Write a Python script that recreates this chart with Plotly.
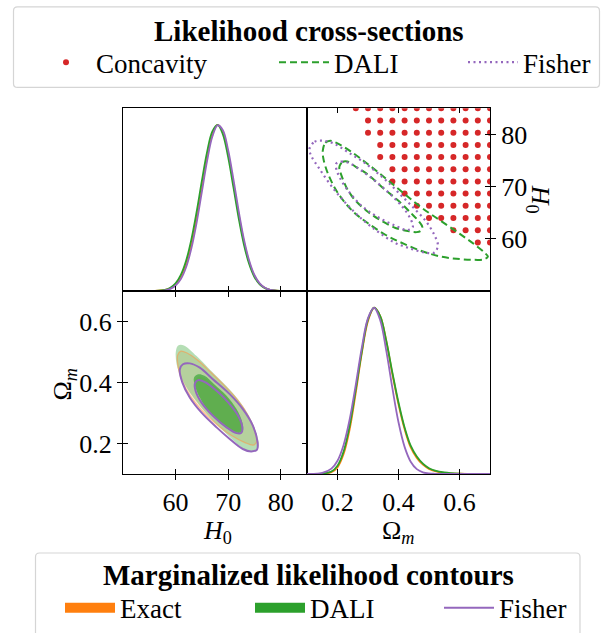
import plotly.graph_objects as go

# ------------------------------------------------------------------ data
# 1D marginal of H0 (top-left panel)
h0_grid = [50, 54, 56, 58, 59, 60, 61, 62, 63, 64, 65, 66, 67, 68, 69, 70, 71, 72, 73, 74, 75, 76, 77, 78, 80, 82, 85]
h0_exact = [0, 0.0001, 0.0008, 0.007, 0.017, 0.041, 0.086, 0.164, 0.283, 0.444, 0.631, 0.812, 0.947, 1.0, 0.956,
            0.829, 0.650, 0.462, 0.298, 0.174, 0.092, 0.044, 0.019, 0.007, 0.001, 0.0001, 0]
h0_dali = [0, 0.0001, 0.001, 0.008, 0.021, 0.047, 0.098, 0.183, 0.31, 0.476, 0.663, 0.838, 0.961, 1.0, 0.943,
           0.806, 0.626, 0.44, 0.281, 0.163, 0.085, 0.041, 0.018, 0.007, 0.001, 0.0001, 0]
h0_fisher = [0, 0.0, 0.0006, 0.005, 0.014, 0.034, 0.073, 0.144, 0.256, 0.411, 0.597, 0.784, 0.930, 0.998, 0.968,
             0.849, 0.674, 0.483, 0.313, 0.184, 0.097, 0.047, 0.020, 0.008, 0.001, 0.0001, 0]

# 1D marginal of Omega_m (bottom-right panel)
om_grid = [0.10, 0.15, 0.18, 0.20, 0.22, 0.24, 0.26, 0.28, 0.30, 0.32, 0.34, 0.36, 0.38, 0.40, 0.42, 0.44, 0.46,
           0.48, 0.50, 0.52, 0.55, 0.60, 0.65, 0.70]
om_exact = [0, 0.001, 0.011, 0.04, 0.12, 0.27, 0.49, 0.73, 0.92, 1.0, 0.95, 0.80, 0.60, 0.42, 0.27, 0.16, 0.097,
            0.056, 0.031, 0.017, 0.007, 0.0015, 0.0003, 0]
om_dali = [0, 0.002, 0.015, 0.05, 0.135, 0.29, 0.51, 0.74, 0.93, 1.0, 0.95, 0.80, 0.61, 0.43, 0.28, 0.17, 0.105,
           0.062, 0.035, 0.02, 0.009, 0.002, 0.0005, 0]
om_fisher = [0.0002, 0.006, 0.032, 0.080, 0.175, 0.329, 0.538, 0.763, 0.938, 1.0, 0.925, 0.741, 0.516, 0.311, 0.163,
             0.074, 0.029, 0.010, 0.003, 0.001, 0.0001, 0, 0, 0]

# Concavity region (grid points of the likelihood cross-section)
conc_om_cols = [0.26, 0.30, 0.34, 0.38, 0.42, 0.46, 0.50, 0.54, 0.58, 0.62, 0.66, 0.70]
conc_h0_rows = [59.33, 61.67, 64.0, 66.33, 68.67, 71.0, 73.33, 75.67, 78.0, 80.33, 82.67, 85.0]
conc_row_min_om = [0.66, 0.58, 0.50, 0.46, 0.42, 0.38, 0.38, 0.34, 0.34, 0.30, 0.30, 0.26]

# Likelihood cross-sections (top-right): x = Omega_m, y = H0
dali_xs_outer_om = [0.152, 0.160, 0.176, 0.200, 0.242, 0.300, 0.360, 0.420, 0.480, 0.540, 0.600, 0.650, 0.685,
                    0.693, 0.680, 0.640, 0.590, 0.540, 0.480, 0.420, 0.360, 0.300, 0.250, 0.200, 0.168, 0.153]
dali_xs_outer_h0 = [77.0, 78.4, 78.8, 78.3, 76.8, 74.3, 71.5, 68.6, 65.8, 63.4, 61.0, 58.9, 57.2,
                    56.6, 56.1, 56.0, 56.2, 56.6, 57.6, 59.0, 60.7, 63.0, 65.3, 68.9, 72.6, 75.6]
dali_xs_inner_om = [0.207, 0.216, 0.232, 0.260, 0.300, 0.350, 0.400, 0.440, 0.466, 0.478, 0.474, 0.460, 0.430,
                    0.390, 0.340, 0.295, 0.255, 0.228, 0.212, 0.206]
dali_xs_inner_h0 = [74.0, 74.7, 74.8, 73.8, 72.3, 69.7, 67.3, 65.0, 63.4, 62.3, 61.6, 61.3, 61.5,
                    62.1, 63.6, 65.4, 67.6, 70.0, 72.3, 73.4]
fisher_xs_outer_om = [0.108, 0.125, 0.152, 0.190, 0.234, 0.278, 0.321, 0.365, 0.409, 0.452, 0.491, 0.518, 0.529,
                      0.518, 0.485, 0.442, 0.387, 0.332, 0.278, 0.223, 0.179, 0.141, 0.114]
fisher_xs_outer_h0 = [77.2, 78.6, 78.8, 78.2, 76.6, 75.0, 73.1, 70.9, 68.3, 65.8, 63.3, 60.7, 58.8,
                      57.4, 57.4, 58.1, 59.3, 61.4, 63.9, 67.1, 70.2, 73.4, 75.9]
fisher_xs_inner_om = [0.196, 0.212, 0.239, 0.278, 0.321, 0.365, 0.409, 0.436, 0.447, 0.430, 0.387, 0.332, 0.278,
                      0.234, 0.207, 0.196]
fisher_xs_inner_h0 = [74.4, 74.8, 74.5, 73.1, 71.2, 69.0, 66.4, 64.2, 62.3, 61.7, 62.6, 64.2, 66.4,
                      69.3, 71.8, 73.4]

# Marginalized contours (bottom-left): x = H0, y = Omega_m
exact_outer_h0 = [60.4, 61.0, 62.2, 64.3, 66.8, 69.3, 71.8, 73.8, 75.1, 75.4, 74.8, 73.2, 70.5, 67.6, 64.9, 62.8,
                  61.2, 60.5]
exact_outer_om = [0.490, 0.503, 0.497, 0.472, 0.432, 0.390, 0.343, 0.292, 0.240, 0.205, 0.195, 0.203, 0.228, 0.266,
                  0.310, 0.356, 0.408, 0.450]
exact_inner_h0 = [63.8, 64.5, 65.6, 67.4, 69.6, 71.4, 72.4, 72.5, 71.9, 70.4, 68.3, 66.2, 64.7, 63.9]
exact_inner_om = [0.410, 0.420, 0.415, 0.390, 0.355, 0.313, 0.271, 0.246, 0.240, 0.247, 0.272, 0.309, 0.350, 0.386]
dali_outer_h0 = [60.06, 60.5, 61.6, 64.0, 66.5, 69.0, 71.6, 73.75, 75.2, 75.8, 75.6, 74.4, 72.5, 69.7, 67.1, 64.6,
                 62.7, 61.1, 60.2]
dali_outer_om = [0.503, 0.522, 0.522, 0.487, 0.443, 0.400, 0.351, 0.297, 0.242, 0.204, 0.182, 0.174, 0.188, 0.231,
                 0.275, 0.324, 0.367, 0.416, 0.460]
dali_inner_h0 = [63.5, 64.3, 65.5, 67.4, 69.7, 71.6, 72.7, 72.8, 72.2, 70.6, 68.4, 66.2, 64.6, 63.7]
dali_inner_om = [0.416, 0.427, 0.422, 0.394, 0.357, 0.313, 0.269, 0.242, 0.235, 0.242, 0.269, 0.308, 0.351, 0.389]
fisher_outer_h0 = [60.8, 61.4, 62.7, 64.6, 67.1, 70.3, 72.8, 74.7, 75.6, 75.5, 74.4, 72.8, 70.3, 67.8, 64.9, 62.7,
                   61.3]
fisher_outer_om = [0.443, 0.460, 0.463, 0.449, 0.411, 0.362, 0.313, 0.259, 0.204, 0.180, 0.174, 0.182, 0.215, 0.253,
                   0.302, 0.351, 0.400]
fisher_inner_h0 = [63.7, 64.3, 65.5, 67.8, 70.0, 71.9, 72.7, 72.5, 71.6, 69.7, 67.1, 64.9, 63.8]
fisher_inner_om = [0.398, 0.408, 0.402, 0.373, 0.335, 0.291, 0.253, 0.235, 0.234, 0.253, 0.291, 0.335, 0.373]

# axes
h0_range = [50, 85]
om_range = [0.1, 0.7]
dens_range = [0, 1.1]
h0_ticks = [60, 70, 80]
h0_ticktext = ["60", "70", "80"]
om_ticks = [0.2, 0.4, 0.6]
om_ticktext = ["0.2", "0.4", "0.6"]

# ------------------------------------------------------------------ style
W, H = 607, 633
FONT = "Liberation Serif"
C_EXACT = "#ff7f0e"
C_DALI = "#2ca02c"
C_FISHER = "#9467bd"
C_CONC = "#d62728"


def px(x):
    return x / W


def py(y):
    return 1 - y / H


def closed(a):
    return list(a) + [a[0]]


colL = [px(123), px(307)]
colR = [px(307), px(490)]
rowT = [py(293), py(109)]
rowB = [py(477), py(293)]

fig = go.Figure()

# ---------------- top-left: H0 marginal
for yv, c in [(h0_exact, C_EXACT), (h0_dali, C_DALI), (h0_fisher, C_FISHER)]:
    fig.add_trace(go.Scatter(x=h0_grid, y=yv, mode="lines", line=dict(color=c, width=1.8, shape="spline"),
                             showlegend=False, hoverinfo="skip", xaxis="x", yaxis="y"))

# ---------------- top-right: cross-sections
conc_x, conc_y = [], []
for h, mn in zip(conc_h0_rows, conc_row_min_om):
    for o in conc_om_cols:
        if o >= mn - 1e-9:
            conc_x.append(o)
            conc_y.append(h)
fig.add_trace(go.Scatter(x=conc_x, y=conc_y, mode="markers", name="Concavity",
                         marker=dict(color=C_CONC, size=6, line=dict(width=0)),
                         legend="legend", xaxis="x2", yaxis="y2", hoverinfo="skip"))
for i, (xo, yo) in enumerate([(dali_xs_outer_om, dali_xs_outer_h0), (dali_xs_inner_om, dali_xs_inner_h0)]):
    fig.add_trace(go.Scatter(x=closed(xo), y=closed(yo), mode="lines", name="DALI",
                             line=dict(color=C_DALI, width=2, dash="7px,4px", shape="spline"),
                             showlegend=(i == 0), legend="legend2", xaxis="x2", yaxis="y2", hoverinfo="skip"))
for i, (xo, yo) in enumerate([(fisher_xs_outer_om, fisher_xs_outer_h0), (fisher_xs_inner_om, fisher_xs_inner_h0)]):
    fig.add_trace(go.Scatter(x=closed(xo), y=closed(yo), mode="lines", name="Fisher",
                             line=dict(color=C_FISHER, width=2.2, dash="2px,3.5px", shape="spline"),
                             showlegend=(i == 0), legend="legend3", xaxis="x2", yaxis="y2", hoverinfo="skip"))

# ---------------- bottom-left: marginalized contours
fills = [
    (exact_outer_h0, exact_outer_om, "rgba(255,127,14,0.15)"),
    (exact_inner_h0, exact_inner_om, "rgba(255,127,14,0.15)"),
    (dali_outer_h0, dali_outer_om, "rgba(44,160,44,0.35)"),
    (dali_inner_h0, dali_inner_om, "rgba(44,160,44,0.62)"),
]
for xs, ys, fc in fills:
    fig.add_trace(go.Scatter(x=closed(xs), y=closed(ys), mode="lines", fill="toself", fillcolor=fc,
                             line=dict(width=0, shape="spline"), showlegend=False, hoverinfo="skip",
                             xaxis="x3", yaxis="y3"))
fig.add_trace(go.Scatter(x=closed(exact_outer_h0), y=closed(exact_outer_om), mode="lines",
                         line=dict(color="rgba(255,150,70,0.55)", width=1.3, shape="spline"),
                         showlegend=False, hoverinfo="skip", xaxis="x3", yaxis="y3"))
for i, (xs, ys) in enumerate([(fisher_outer_h0, fisher_outer_om), (fisher_inner_h0, fisher_inner_om)]):
    fig.add_trace(go.Scatter(x=closed(xs), y=closed(ys), mode="lines", name="Fisher",
                             line=dict(color=C_FISHER, width=2, shape="spline"),
                             showlegend=(i == 0), legend="legend6", xaxis="x3", yaxis="y3", hoverinfo="skip"))
# legend keys for the filled contours
fig.add_trace(go.Scatter(x=[None], y=[None], mode="lines", name="Exact", line=dict(color=C_EXACT, width=15),
                         legend="legend4", xaxis="x3", yaxis="y3", hoverinfo="skip"))
fig.add_trace(go.Scatter(x=[None], y=[None], mode="lines", name="DALI", line=dict(color=C_DALI, width=15),
                         legend="legend5", xaxis="x3", yaxis="y3", hoverinfo="skip"))

# ---------------- bottom-right: Omega_m marginal
for yv, c in [(om_exact, C_EXACT), (om_dali, C_DALI), (om_fisher, C_FISHER)]:
    fig.add_trace(go.Scatter(x=om_grid, y=yv, mode="lines", line=dict(color=c, width=1.8, shape="spline"),
                             showlegend=False, hoverinfo="skip", xaxis="x4", yaxis="y4"))

# invisible anchors for the overlay (inner tick) axes
for xa, ya in [("x5", "y"), ("x6", "y3"), ("x3", "y5"), ("x7", "y4"), ("x2", "y6")]:
    fig.add_trace(go.Scatter(x=[None], y=[None], mode="lines", showlegend=False, hoverinfo="skip",
                             xaxis=xa, yaxis=ya))

# ------------------------------------------------------------------ axes
tickfont = dict(family=FONT, size=26, color="black")
base = dict(showgrid=False, zeroline=False, showline=True, linecolor="black", linewidth=1.3, mirror=True,
            ticklen=5, tickwidth=1.2, tickcolor="black", tickfont=tickfont, fixedrange=True)
ov = dict(showgrid=False, zeroline=False, showline=False, ticks="inside", ticklen=5, tickwidth=1.2,
          tickcolor="black", showticklabels=False, fixedrange=True)

layout_axes = dict(
    xaxis=dict(base, domain=colL, anchor="y", range=h0_range, tickvals=h0_ticks, ticks="outside",
               showticklabels=False),
    yaxis=dict(base, domain=rowT, anchor="x", range=dens_range, ticks="", showticklabels=False),
    xaxis2=dict(base, domain=colR, anchor="y2", range=om_range, tickvals=om_ticks, ticks="inside", side="top",
                showticklabels=False),
    yaxis2=dict(base, domain=rowT, anchor="x2", range=h0_range, tickvals=h0_ticks, ticktext=h0_ticktext,
                ticks="outside", side="right"),
    xaxis3=dict(base, domain=colL, anchor="y3", range=h0_range, tickvals=h0_ticks, ticktext=h0_ticktext,
                ticks="outside"),
    yaxis3=dict(base, domain=rowB, anchor="x3", range=om_range, tickvals=om_ticks, ticktext=om_ticktext,
                ticks="outside"),
    xaxis4=dict(base, domain=colR, anchor="y4", range=om_range, tickvals=om_ticks, ticktext=om_ticktext,
                ticks="outside"),
    yaxis4=dict(base, domain=rowB, anchor="x4", range=dens_range, ticks="", showticklabels=False),
    xaxis5=dict(ov, overlaying="x", anchor="y", range=h0_range, tickvals=h0_ticks),
    xaxis6=dict(ov, overlaying="x3", anchor="y3", range=h0_range, tickvals=h0_ticks),
    yaxis5=dict(ov, overlaying="y3", anchor="x3", range=om_range, tickvals=om_ticks, mirror="ticks"),
    xaxis7=dict(ov, overlaying="x4", anchor="y4", range=om_range, tickvals=om_ticks),
    yaxis6=dict(ov, overlaying="y2", anchor="x2", side="right", range=h0_range, tickvals=h0_ticks),
)

legfont = dict(family=FONT, size=27, color="black")
ITEMW = 50


def leg(text_left, y):
    # legend placed so that its label starts at pixel column text_left
    return dict(x=px(text_left - ITEMW - 11), y=y, xanchor="left", yanchor="middle", bgcolor="rgba(0,0,0,0)",
                borderwidth=0, font=legfont, orientation="v", itemclick=False, itemdoubleclick=False,
                itemwidth=ITEMW)


def rounded_box(x0, y0, x1, y1, r=4):
    # pixel box -> paper path with rounded corners
    X0, X1, Y0, Y1 = px(x0), px(x1), py(y0), py(y1)
    rx, ry = r / W, r / H
    return (f"M {X0+rx},{Y0} L {X1-rx},{Y0} Q {X1},{Y0} {X1},{Y0-ry} L {X1},{Y1+ry} Q {X1},{Y1} {X1-rx},{Y1} "
            f"L {X0+rx},{Y1} Q {X0},{Y1} {X0},{Y1+ry} L {X0},{Y0-ry} Q {X0},{Y0} {X0+rx},{Y0} Z")


shapes = [
    dict(type="path", xref="paper", yref="paper", path=rounded_box(13.5, 7, 599.5, 88),
         line=dict(color="#d5d5d5", width=1.2), fillcolor="white", layer="below"),
    dict(type="path", xref="paper", yref="paper", path=rounded_box(35.5, 556.5, 580, 650),
         line=dict(color="#d5d5d5", width=1.2), fillcolor="white", layer="below"),
]

labfont = dict(family=FONT, size=26, color="black")
annotations = [
    dict(text="<b>Likelihood cross-sections</b>", x=px(308.5), y=py(31), xref="paper", yref="paper",
         showarrow=False, font=dict(family=FONT, size=29, color="black"), xanchor="center", yanchor="middle"),
    dict(text="<b>Marginalized likelihood contours</b>", x=px(308), y=py(579), xref="paper", yref="paper",
         showarrow=False, font=dict(family=FONT, size=29, color="black"), xanchor="center", yanchor="middle"),
    dict(text="<i>H</i><sub>0</sub>", x=px(217), y=py(517), xref="paper", yref="paper", showarrow=False,
         font=labfont, xanchor="center", yanchor="top"),
    dict(text="Ω<sub><i>m</i></sub>", x=px(398), y=py(517), xref="paper", yref="paper", showarrow=False,
         font=labfont, xanchor="center", yanchor="top"),
    dict(text="Ω<sub><i>m</i></sub>", x=px(64), y=py(387), xref="paper", yref="paper", showarrow=False,
         font=labfont, xanchor="center", yanchor="middle", textangle=-90),
    dict(text="<i>H</i><sub>0</sub>", x=px(539), y=py(200), xref="paper", yref="paper", showarrow=False,
         font=labfont, xanchor="center", yanchor="middle", textangle=90),
]

fig.update_layout(
    width=W, height=H, margin=dict(l=0, r=0, t=0, b=0, pad=0),
    paper_bgcolor="white", plot_bgcolor="rgba(0,0,0,0)",
    font=dict(family=FONT, color="black"),
    shapes=shapes, annotations=annotations,
    legend=leg(97, py(63)),
    legend2=leg(335, py(63)),
    legend3=leg(524, py(63)),
    legend4=leg(121, py(612)),
    legend5=leg(311, py(612)),
    legend6=leg(500, py(612)),
    **layout_axes,
)

fig.write_html("out.html")
